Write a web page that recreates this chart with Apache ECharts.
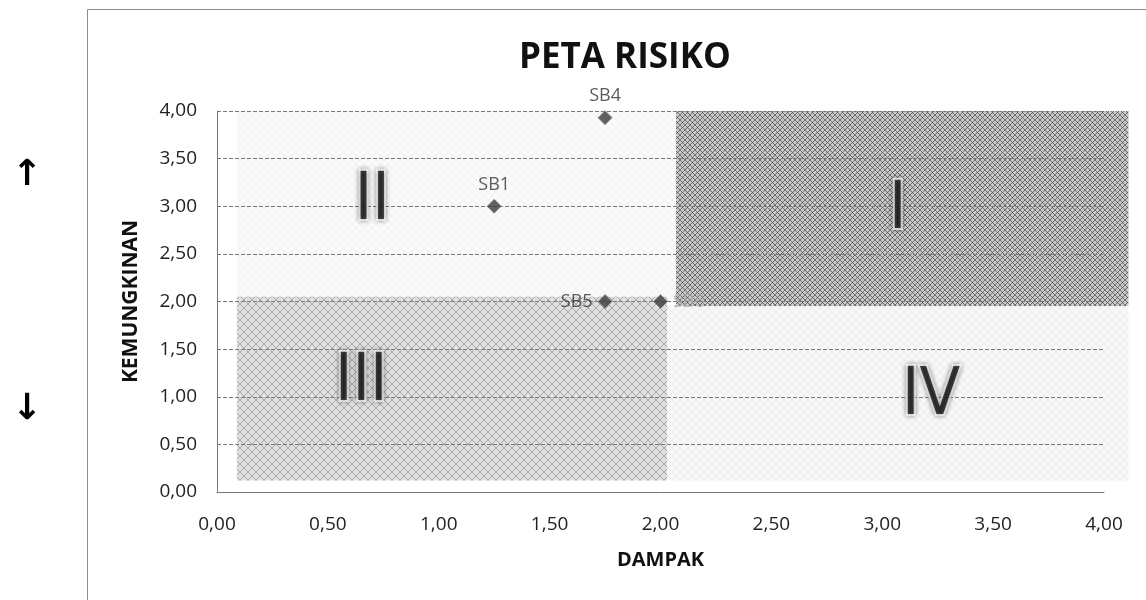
<!DOCTYPE html>
<html>
<head>
<meta charset="utf-8">
<script src="https://cdn.jsdelivr.net/npm/echarts@6/dist/echarts.min.js"></script>
<style>html,body{margin:0;padding:0;background:#fff}#c{width:1146px;height:600px}</style>
</head>
<body>
<div id="c"></div>
<script>
// ---- data ----
const pointNames = ['SB4', 'SB1', 'SB5', 'SB6'];
const dampak = [1.75, 1.25, 1.75, 2.00];
const kemungkinan = [3.93, 3.00, 2.00, 2.00];
const xTicks = [0, 0.5, 1, 1.5, 2, 2.5, 3, 3.5, 4];
const yTicks = [0, 0.5, 1, 1.5, 2, 2.5, 3, 3.5, 4];
const zoneNames = ['I', 'II', 'III', 'IV'];
const zoneX0 = [2.07, 0.09, 0.09, 2.03];
const zoneX1 = [4.11, 2.07, 2.03, 4.11];
const zoneY0 = [1.95, 2.00, 0.12, 0.12];
const zoneY1 = [4.00, 4.00, 2.05, 1.95];
const zoneLabelX = [3.07, 0.70, 0.65, 3.22];
const zoneLabelY = [2.95, 3.05, 1.15, 1.00];

function makePattern(bg, fg, step, lw, dots) {
  const c = document.createElement('canvas');
  c.width = step; c.height = step;
  const g = c.getContext('2d');
  g.fillStyle = bg; g.fillRect(0, 0, step, step);
  g.strokeStyle = fg; g.lineWidth = lw;
  g.beginPath();
  g.moveTo(0, 0); g.lineTo(step, step);
  g.moveTo(step, 0); g.lineTo(0, step);
  g.stroke();
  if (dots) { g.fillStyle = dots; g.fillRect(step/2 - 0.5, step/2 - 0.5, 1, 1); }
  return c;
}
const zoneFills = [
  { image: makePattern('#c8c8c8', '#6e6e6e', 5, 1, '#4a4a4a'), repeat: 'repeat' },
  { image: makePattern('#fbfbfb', '#f0f0f0', 8, 1), repeat: 'repeat' },
  { image: makePattern('#e0e0e0', '#a8a8a8', 8, 1), repeat: 'repeat' },
  { image: makePattern('#f8f8f8', '#ececec', 8, 1), repeat: 'repeat' }
];

const chart = echarts.init(document.getElementById('c'));
const fmt = v => v.toFixed(2).replace('.', ',');
const font = "'Open Sans', 'Noto Sans', sans-serif";

chart.setOption({
  animation: false,
  textStyle: { fontFamily: font },
  title: {
    text: 'PETA RISIKO', left: 514, top: 36,
    textStyle: { fontSize: 35, fontWeight: 'bold', color: '#111', fontFamily: font }
  },
  graphic: [
    { type: 'rect', shape: { x: 87.5, y: 9.5, width: 1200, height: 700 }, style: { fill: 'none', stroke: '#8c8c8c', lineWidth: 1 }, silent: true, z: -10 },
    { type: 'text', x: 27, y: 176, style: { text: '↑', fontSize: 36, fontWeight: 'bold', fill: '#000', textAlign: 'center', textVerticalAlign: 'middle', fontFamily: 'DejaVu Sans' } },
    { type: 'text', x: 27, y: 410, style: { text: '↓', fontSize: 36, fontWeight: 'bold', fill: '#000', textAlign: 'center', textVerticalAlign: 'middle', fontFamily: 'DejaVu Sans' } }
  ],
  grid: { left: 217, right: 42, top: 111, bottom: 108 },
  xAxis: {
    type: 'value', min: 0, max: 4, interval: 0.5, z: 3,
    name: 'DAMPAK', nameLocation: 'middle', nameGap: 58,
    nameTextStyle: { fontSize: 20, fontWeight: 'bold', color: '#111' },
    axisLine: { show: true, lineStyle: { color: '#777' } },
    axisTick: { show: false },
    axisLabel: { formatter: fmt, fontSize: 19, color: '#222', margin: 23 },
    splitLine: { show: false }
  },
  yAxis: {
    type: 'value', min: 0, max: 4, interval: 0.5, z: 3,
    name: 'KEMUNGKINAN', nameLocation: 'middle', nameGap: 75, nameRotate: 90,
    nameTextStyle: { fontSize: 21, fontWeight: 'bold', color: '#111' },
    axisLine: { show: true, lineStyle: { color: '#777' } },
    axisTick: { show: false },
    axisLabel: { formatter: fmt, fontSize: 19, color: '#222', margin: 20 },
    splitLine: { show: true, lineStyle: { color: '#7a7a7a', type: [4, 2], width: 1 } }
  },
  series: [
    {
      type: 'custom', clip: false, z: 1,
      data: zoneNames.map((n, i) => [zoneX0[i], zoneY0[i], zoneX1[i], zoneY1[i]]),
      renderItem: function (params, api) {
        const p0 = api.coord([api.value(0), api.value(3)]);
        const p1 = api.coord([api.value(2), api.value(1)]);
        return {
          type: 'rect',
          shape: { x: p0[0], y: p0[1], width: p1[0] - p0[0], height: p1[1] - p0[1] },
          style: { fill: zoneFills[params.dataIndex] }
        };
      }
    },
    {
      type: 'scatter', z: 4, symbol: 'diamond', symbolSize: 14,
      itemStyle: { color: '#3a3a3a', borderColor: '#888', borderWidth: 1 },
      data: pointNames.map((n, i) => ({
        name: n, value: [dampak[i], kemungkinan[i]],
        label: {
          show: true, formatter: n, fontSize: 18, color: i === 3 ? '#aaa' : '#333',
          position: i >= 2 ? (i === 2 ? 'left' : 'right') : 'top', distance: 5
        }
      }))
    },
    {
      type: 'scatter', z: 5, symbolSize: 0, silent: true,
      data: zoneNames.map((n, i) => ({
        name: n, value: [zoneLabelX[i], zoneLabelY[i]],
        label: {
          show: true, position: 'inside', formatter: n, fontSize: 66, fontWeight: 'normal',
          fontFamily: "'Liberation Sans Narrow', 'DejaVu Sans Condensed', sans-serif",
          color: '#111', textBorderColor: '#fff', textBorderWidth: 4,
          textShadowColor: 'rgba(0,0,0,0.45)', textShadowBlur: 5
        }
      }))
    }
  ]
});
</script>
</body>
</html>
